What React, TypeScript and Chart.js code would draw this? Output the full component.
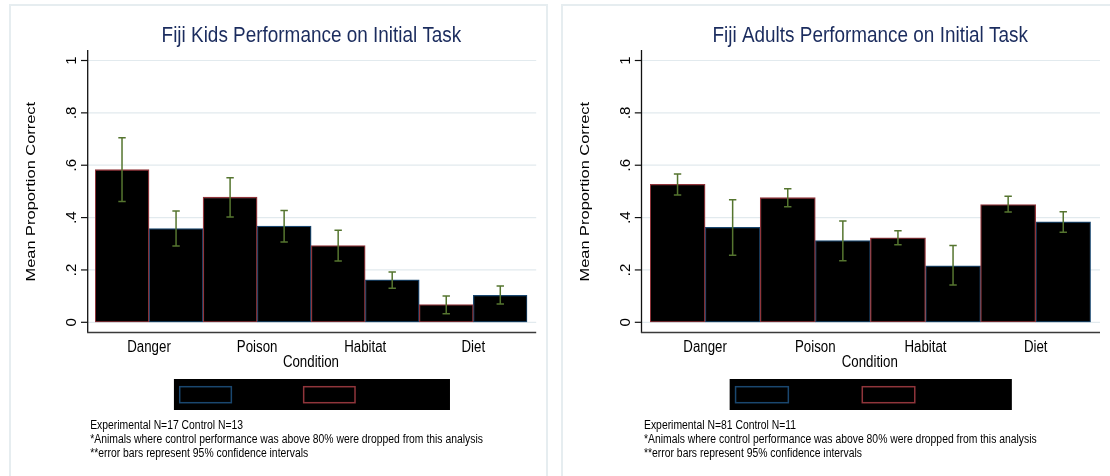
import React, { useEffect, useRef } from "react";
import { Chart, registerables } from "chart.js";

Chart.register(...registerables);

// ---- data ----
const categories = ["Danger", "Poison", "Habitat", "Diet"];

const yTickValues = [0, 0.2, 0.4, 0.6, 0.8, 1];
const yTickLabels = ["0", ".2", ".4", ".6", ".8", "1"];

// Kids
const kidsExperimental = [0.583, 0.478, 0.293, 0.068];
const kidsExperimentalLo = [0.461, 0.402, 0.234, 0.033];
const kidsExperimentalHi = [0.705, 0.552, 0.352, 0.1];
const kidsControl = [0.358, 0.368, 0.162, 0.103];
const kidsControlLo = [0.291, 0.307, 0.13, 0.07];
const kidsControlHi = [0.425, 0.427, 0.192, 0.139];

// Adults
const adultsExperimental = [0.527, 0.476, 0.323, 0.45];
const adultsExperimentalLo = [0.486, 0.441, 0.296, 0.421];
const adultsExperimentalHi = [0.566, 0.51, 0.35, 0.481];
const adultsControl = [0.363, 0.312, 0.216, 0.384];
const adultsControlLo = [0.256, 0.235, 0.142, 0.344];
const adultsControlHi = [0.468, 0.387, 0.293, 0.422];

const legendLabels = ["Control", "Experimental"];

const kidsNotes = [
  "Experimental N=17 Control N=13",
  "*Animals where control performance was above 80% were dropped from this analysis",
  "**error bars represent 95% confidence intervals",
];
const adultsNotes = [
  "Experimental N=81 Control N=11",
  "*Animals where control performance was above 80% were dropped from this analysis",
  "**error bars represent 95% confidence intervals",
];

// ---- style ----
const FONT = '"Liberation Sans", Arial, Helvetica, sans-serif';
const NAVY = "#1a476f";
const MAROON = "#90353b";
const GREEN = "#55752f";
const GRID = "#e2eaee";
const TITLE = "#1b2c5e";

const CANVAS_W = 555;
const CANVAS_H = 476;

type Frame = {
  offset: number;
  axisX: number;
  barsLeft: number;
  barsRight: number;
  plotRight: number;
};

const TOP_Y = 60.5; // pixel of value 1
const ZERO_Y = 322.3; // pixel of value 0
const AXIS_TOP = 50;
const X_AXIS_Y = 332.5;

function drawText(
  ctx: CanvasRenderingContext2D,
  text: string,
  x: number,
  y: number,
  size: number,
  sx: number,
  align: CanvasTextAlign,
  color: string,
  rotate = false
) {
  ctx.save();
  ctx.translate(x, y);
  ctx.scale(sx, 1);
  if (rotate) ctx.rotate(-Math.PI / 2);
  ctx.font = `${size}px ${FONT}`;
  ctx.textAlign = align;
  ctx.textBaseline = "alphabetic";
  ctx.fillStyle = color;
  ctx.fillText(text, 0, 0);
  ctx.restore();
}

type PanelProps = {
  title: string;
  exp: number[];
  expLo: number[];
  expHi: number[];
  ctl: number[];
  ctlLo: number[];
  ctlHi: number[];
  notes: string[];
  frame: Frame;
};

function FijiPanel(props: PanelProps) {
  const ref = useRef<HTMLCanvasElement | null>(null);

  useEffect(() => {
    if (!ref.current) return;
    const { title, exp, expLo, expHi, ctl, ctlLo, ctlHi, notes, frame } = props;
    const o = frame.offset;
    const axisX = frame.axisX - o;
    const plotRight = frame.plotRight - o;
    const plotMid = (axisX + plotRight) / 2;

    const lows = [expLo, ctlLo];
    const highs = [expHi, ctlHi];

    const stataFrame = {
      id: "stataFrame",
      beforeDatasetsDraw(chart: any) {
        const ctx: CanvasRenderingContext2D = chart.ctx;
        const y = chart.scales.y;
        ctx.save();
        ctx.strokeStyle = GRID;
        ctx.lineWidth = 1.2;
        yTickValues.forEach((v) => {
          const py = y.getPixelForValue(v);
          ctx.beginPath();
          ctx.moveTo(axisX, py);
          ctx.lineTo(plotRight, py);
          ctx.stroke();
        });
        ctx.restore();
      },
      afterDatasetsDraw(chart: any) {
        const ctx: CanvasRenderingContext2D = chart.ctx;
        const y = chart.scales.y;
        ctx.save();
        ctx.strokeStyle = GREEN;
        ctx.lineWidth = 1.5;
        [0, 1].forEach((d) => {
          const meta = chart.getDatasetMeta(d);
          meta.data.forEach((bar: any, i: number) => {
            const x = bar.x;
            const lo = y.getPixelForValue(lows[d][i]);
            const hi = y.getPixelForValue(highs[d][i]);
            ctx.beginPath();
            ctx.moveTo(x, lo);
            ctx.lineTo(x, hi);
            ctx.moveTo(x - 3.7, lo);
            ctx.lineTo(x + 3.7, lo);
            ctx.moveTo(x - 3.7, hi);
            ctx.lineTo(x + 3.7, hi);
            ctx.stroke();
          });
        });
        ctx.restore();
      },
      afterDraw(chart: any) {
        const ctx: CanvasRenderingContext2D = chart.ctx;
        const y = chart.scales.y;
        const x = chart.scales.x;

        // axis lines
        ctx.save();
        ctx.strokeStyle = "#111";
        ctx.lineWidth = 1.3;
        ctx.beginPath();
        ctx.moveTo(axisX, AXIS_TOP);
        ctx.lineTo(axisX, X_AXIS_Y);
        ctx.stroke();
        ctx.strokeStyle = "#3a3a3a";
        ctx.lineWidth = 1.6;
        ctx.beginPath();
        ctx.moveTo(axisX - 0.6, X_AXIS_Y);
        ctx.lineTo(plotRight, X_AXIS_Y);
        ctx.stroke();

        // y ticks and labels
        ctx.strokeStyle = "#111";
        ctx.lineWidth = 1.2;
        yTickValues.forEach((v, i) => {
          const py = y.getPixelForValue(v);
          ctx.beginPath();
          ctx.moveTo(axisX - 6.7, py);
          ctx.lineTo(axisX, py);
          ctx.stroke();
          drawText(ctx, yTickLabels[i], axisX - 11.5, py, 15, 1.02, "center", "#000", true);
        });
        ctx.restore();

        // y axis title
        drawText(ctx, "Mean Proportion Correct", axisX - 52.9, (y.top + y.bottom) / 2 + 0.3, 16.4, 0.78, "center", "#000", true);

        // category labels
        categories.forEach((c, i) => {
          drawText(ctx, c, x.getPixelForTick(i), 352.3, 16, 0.83, "center", "#000");
        });
        drawText(ctx, "Condition", plotMid - 1, 366.7, 16, 0.83, "center", "#000");

        // title
        drawText(ctx, title, plotMid - 0.5, 41.7, 22, 0.86, "center", TITLE);

        // legend
        const lw = (plotRight - axisX) * 0.6155;
        const ll = plotMid - lw / 2;
        ctx.save();
        ctx.fillStyle = "#000";
        ctx.fillRect(ll, 379, lw, 31);
        ctx.lineWidth = 1.5;
        const keys = [
          { a: 0.021, b: 0.208, color: NAVY, label: legendLabels[0] },
          { a: 0.47, b: 0.656, color: MAROON, label: legendLabels[1] },
        ];
        keys.forEach((k) => {
          ctx.strokeStyle = k.color;
          ctx.strokeRect(ll + lw * k.a, 386.7, lw * (k.b - k.a), 16);
          drawText(ctx, k.label, ll + lw * k.b + 8, 399, 12.5, 0.83, "left", "#000");
        });
        ctx.restore();

        // notes
        const nb = [429, 443, 456.5];
        notes.forEach((n, i) => {
          drawText(ctx, n, axisX + 2.5, nb[i], 12.5, 0.83, "left", "#000");
        });
      },
    };

    const chart = new Chart(ref.current, {
      type: "bar",
      data: {
        labels: categories,
        datasets: [
          {
            label: legendLabels[1],
            data: exp,
            backgroundColor: "#000",
            borderColor: MAROON,
            borderWidth: 1.3,
            borderSkipped: false,
            categoryPercentage: 1,
            barPercentage: 1,
          },
          {
            label: legendLabels[0],
            data: ctl,
            backgroundColor: "#000",
            borderColor: NAVY,
            borderWidth: 1.3,
            borderSkipped: false,
            categoryPercentage: 1,
            barPercentage: 1,
          },
        ],
      },
      options: {
        responsive: false,
        animation: false,
        devicePixelRatio: 1,
        events: [],
        layout: {
          padding: {
            left: frame.barsLeft - o,
            right: CANVAS_W - (frame.barsRight - o),
            top: TOP_Y,
            bottom: CANVAS_H - ZERO_Y,
          },
        },
        plugins: {
          legend: { display: false },
          tooltip: { enabled: false },
          title: { display: false },
        },
        scales: {
          x: { display: false },
          y: { display: false, min: 0, max: 1 },
        },
      },
      plugins: [stataFrame],
    } as any);

    return () => chart.destroy();
  }, []);

  return (
    <canvas
      ref={ref}
      width={CANVAS_W}
      height={CANVAS_H}
      style={{ position: "absolute", left: props.frame.offset, top: 0, width: CANVAS_W, height: CANVAS_H }}
    />
  );
}

const kidsFrame: Frame = { offset: 0, axisX: 87.7, barsLeft: 95, barsRight: 527.3, plotRight: 536.2 };
const adultsFrame: Frame = { offset: 555, axisX: 641.5, barsLeft: 650, barsRight: 1090.8, plotRight: 1100 };

export default function App() {
  useEffect(() => {
    document.body.style.margin = "0";
    document.body.style.overflow = "hidden";
  }, []);

  const border = "2px solid #e6edf0";
  return (
    <div style={{ position: "fixed", left: 0, top: 0, width: 1110, height: 476, overflow: "hidden", background: "#fff" }}>
      <div style={{ position: "absolute", left: 9, top: 4, width: 539, height: 600, border, boxSizing: "border-box" }} />
      <div style={{ position: "absolute", left: 561, top: 4, width: 700, height: 600, border, boxSizing: "border-box" }} />
      <FijiPanel
        title="Fiji Kids Performance on Initial Task"
        exp={kidsExperimental}
        expLo={kidsExperimentalLo}
        expHi={kidsExperimentalHi}
        ctl={kidsControl}
        ctlLo={kidsControlLo}
        ctlHi={kidsControlHi}
        notes={kidsNotes}
        frame={kidsFrame}
      />
      <FijiPanel
        title="Fiji Adults Performance on Initial Task"
        exp={adultsExperimental}
        expLo={adultsExperimentalLo}
        expHi={adultsExperimentalHi}
        ctl={adultsControl}
        ctlLo={adultsControlLo}
        ctlHi={adultsControlHi}
        notes={adultsNotes}
        frame={adultsFrame}
      />
    </div>
  );
}
